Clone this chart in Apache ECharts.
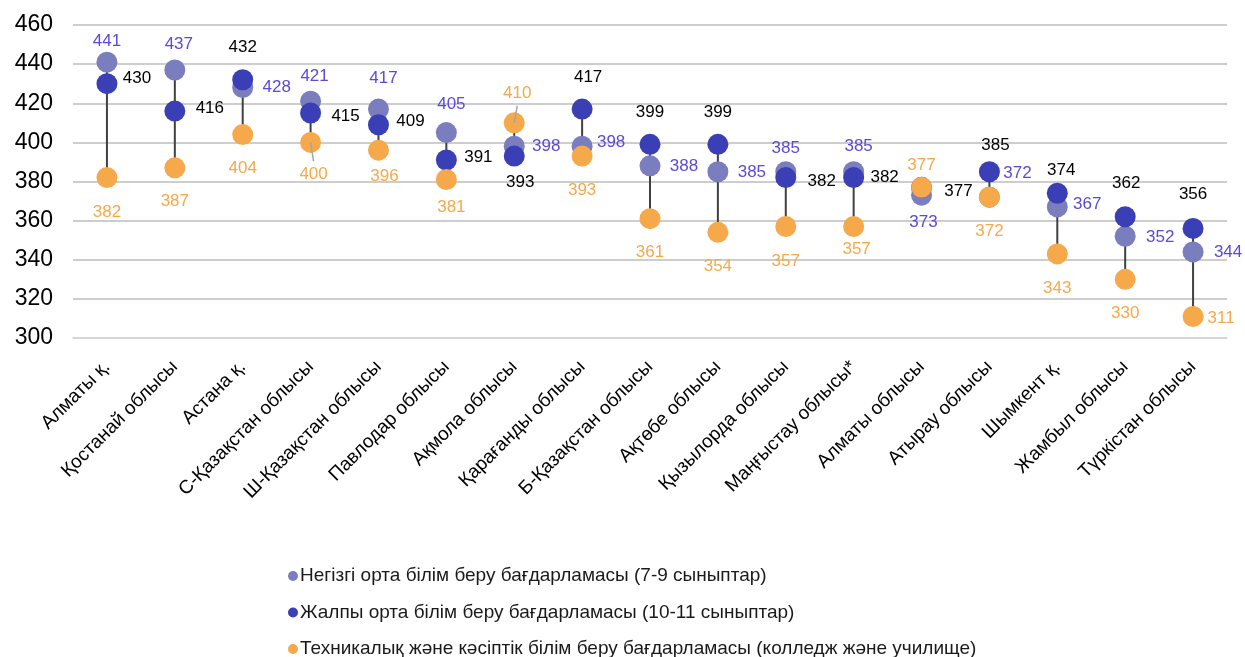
<!DOCTYPE html>
<html>
<head>
<meta charset="utf-8">
<script src="https://cdn.jsdelivr.net/npm/echarts@6/dist/echarts.min.js"></script>
<style>
html,body{margin:0;padding:0;background:#fff;}
#chart{width:1245px;height:657px;}
</style>
</head>
<body>
<div id="chart"></div>
<script>
// ---- data ----
const categories = ['Алматы қ.', 'Қостанай облысы', 'Астана қ.', 'С-Қазақстан облысы', 'Ш-Қазақстан облысы',
  'Павлодар облысы', 'Ақмола облысы', 'Қарағанды облысы', 'Б-Қазақстан облысы', 'Ақтөбе облысы',
  'Қызылорда облысы', 'Маңғыстау облысы*', 'Алматы облысы', 'Атырау облысы', 'Шымкент қ.',
  'Жамбыл облысы', 'Түркістан облысы'];
const seriesNames = ['Негізгі орта білім беру бағдарламасы (7-9 сыныптар)',
  'Жалпы орта білім беру бағдарламасы (10-11 сыныптар)',
  'Техникалық және кәсіптік білім беру бағдарламасы (колледж және училище)'];
const basicValues = [441, 437, 428, 421, 417, 405, 398, 398, 388, 385, 385, 385, 373, 372, 367, 352, 344];
const generalValues = [430, 416, 432, 415, 409, 391, 393, 417, 399, 399, 382, 382, 377, 385, 374, 362, 356];
const techValues = [382, 387, 404, 400, 396, 381, 410, 393, 361, 354, 357, 357, 377, 372, 343, 330, 311];
const yTicks = {min: 300, max: 460, interval: 20};

// ---- label placement (pixel offsets of each value label from its dot) ----
const basicLabelOff = [[0,-21],[4,-26],[34,0],[4,-25],[5,-31],[5,-28],[32,0],[29,-4],[34,0],[34,1],[0,-23],[5,-25],[2,27],[28,-24],[30,-3],[35,1],[35,0]];
const generalLabelOff = [[30,-5],[35,-3],[0,-32],[35,3],[32,-3],[32,-3],[6,26],[6,-32],[0,-32],[0,-32],[36,4],[31,0],[37,4],[6,-26],[4,-23],[1,-33],[0,-34]];
const techLabelOff = [[0,35],[0,34],[0,34],[3,32],[6,26],[5,28],[3,-30],[0,34],[0,34],[0,34],[0,35],[3,23],[0,-22],[0,34],[0,34],[0,34],[28,2]];
const techLeader = [3, 6];

const FONT = '"Liberation Sans", Arial, sans-serif';
const colors = {basic: '#7B7EBE', general: '#3A3FB6', tech: '#F5A94A'};
const labelColors = {basic: '#5B4AD6', general: '#000000', tech: '#F5A94A'};

function scatter(name, vals, offs, color, lblColor, z) {
  return {
    name: name,
    type: 'scatter',
    symbol: 'circle',
    symbolSize: 21,
    z: z,
    itemStyle: {color: color, opacity: 1},
    label: {show: true, position: 'inside', color: lblColor, fontSize: 17, fontFamily: FONT,
      formatter: p => p.value[1]},
    emphasis: {disabled: true},
    data: vals.map((v, i) => ({value: [i, v], label: {offset: offs[i]}}))
  };
}

const rangeData = categories.map((c, i) => {
  const vs = [basicValues[i], generalValues[i], techValues[i]];
  return [i, Math.min(...vs), Math.max(...vs)];
});

const chart = echarts.init(document.getElementById('chart'), null, {renderer: 'canvas'});
const option = {
  animation: false,
  textStyle: {fontFamily: FONT},
  grid: {left: 73, right: 18, top: 25, bottom: 319, containLabel: false},
  xAxis: {
    type: 'category',
    data: categories,
    boundaryGap: true,
    axisLine: {show: true, lineStyle: {color: '#d9d9d9', width: 1.5}},
    axisTick: {show: false},
    axisLabel: {interval: 0, rotate: 45, fontSize: 19, color: '#000', fontFamily: FONT, margin: 26}
  },
  yAxis: {
    type: 'value',
    min: yTicks.min, max: yTicks.max, interval: yTicks.interval,
    axisLine: {show: false},
    axisTick: {show: false},
    axisLabel: {fontSize: 23, color: '#000', fontFamily: FONT, margin: 20},
    splitLine: {show: true, lineStyle: {color: '#bcbcbc', width: 1.5}}
  },
  legend: {
    orient: 'vertical',
    left: 288, top: 566,
    width: 950, height: 140,
    padding: 0,
    icon: 'circle',
    itemWidth: 10, itemHeight: 10, itemGap: 16.5,
    textStyle: {fontSize: 19, lineHeight: 20, color: '#1a1a1a', fontFamily: FONT, padding: [0, 0, 0, -3]},
    data: seriesNames
  },
  series: [
    {
      type: 'custom',
      z: 1,
      silent: true,
      renderItem: function (params, api) {
        const p1 = api.coord([api.value(0), api.value(1)]);
        const p2 = api.coord([api.value(0), api.value(2)]);
        return {type: 'line', shape: {x1: p1[0], y1: p1[1], x2: p2[0], y2: p2[1]},
          style: {stroke: '#404040', lineWidth: 2}};
      },
      data: rangeData
    },
    scatter(seriesNames[0], basicValues, basicLabelOff, colors.basic, labelColors.basic, 2),
    scatter(seriesNames[1], generalValues, generalLabelOff, colors.general, labelColors.general, 3),
    scatter(seriesNames[2], techValues, techLabelOff, colors.tech, labelColors.tech, 4),
    {
      // leader lines for the two moved orange labels
      type: 'custom',
      z: 5,
      silent: true,
      renderItem: function (params, api) {
        const i = api.value(0);
        const p = api.coord([i, api.value(1)]);
        const o = techLabelOff[i];
        const dir = o[1] > 0 ? 1 : -1;
        return {type: 'line', shape: {x1: p[0], y1: p[1], x2: p[0] + o[0], y2: p[1] + o[1] - dir * 13},
          style: {stroke: '#a6a6a6', lineWidth: 1.5}};
      },
      data: techLeader.map(i => [i, techValues[i]])
    }
  ]
};
chart.setOption(option);
</script>
</body>
</html>
